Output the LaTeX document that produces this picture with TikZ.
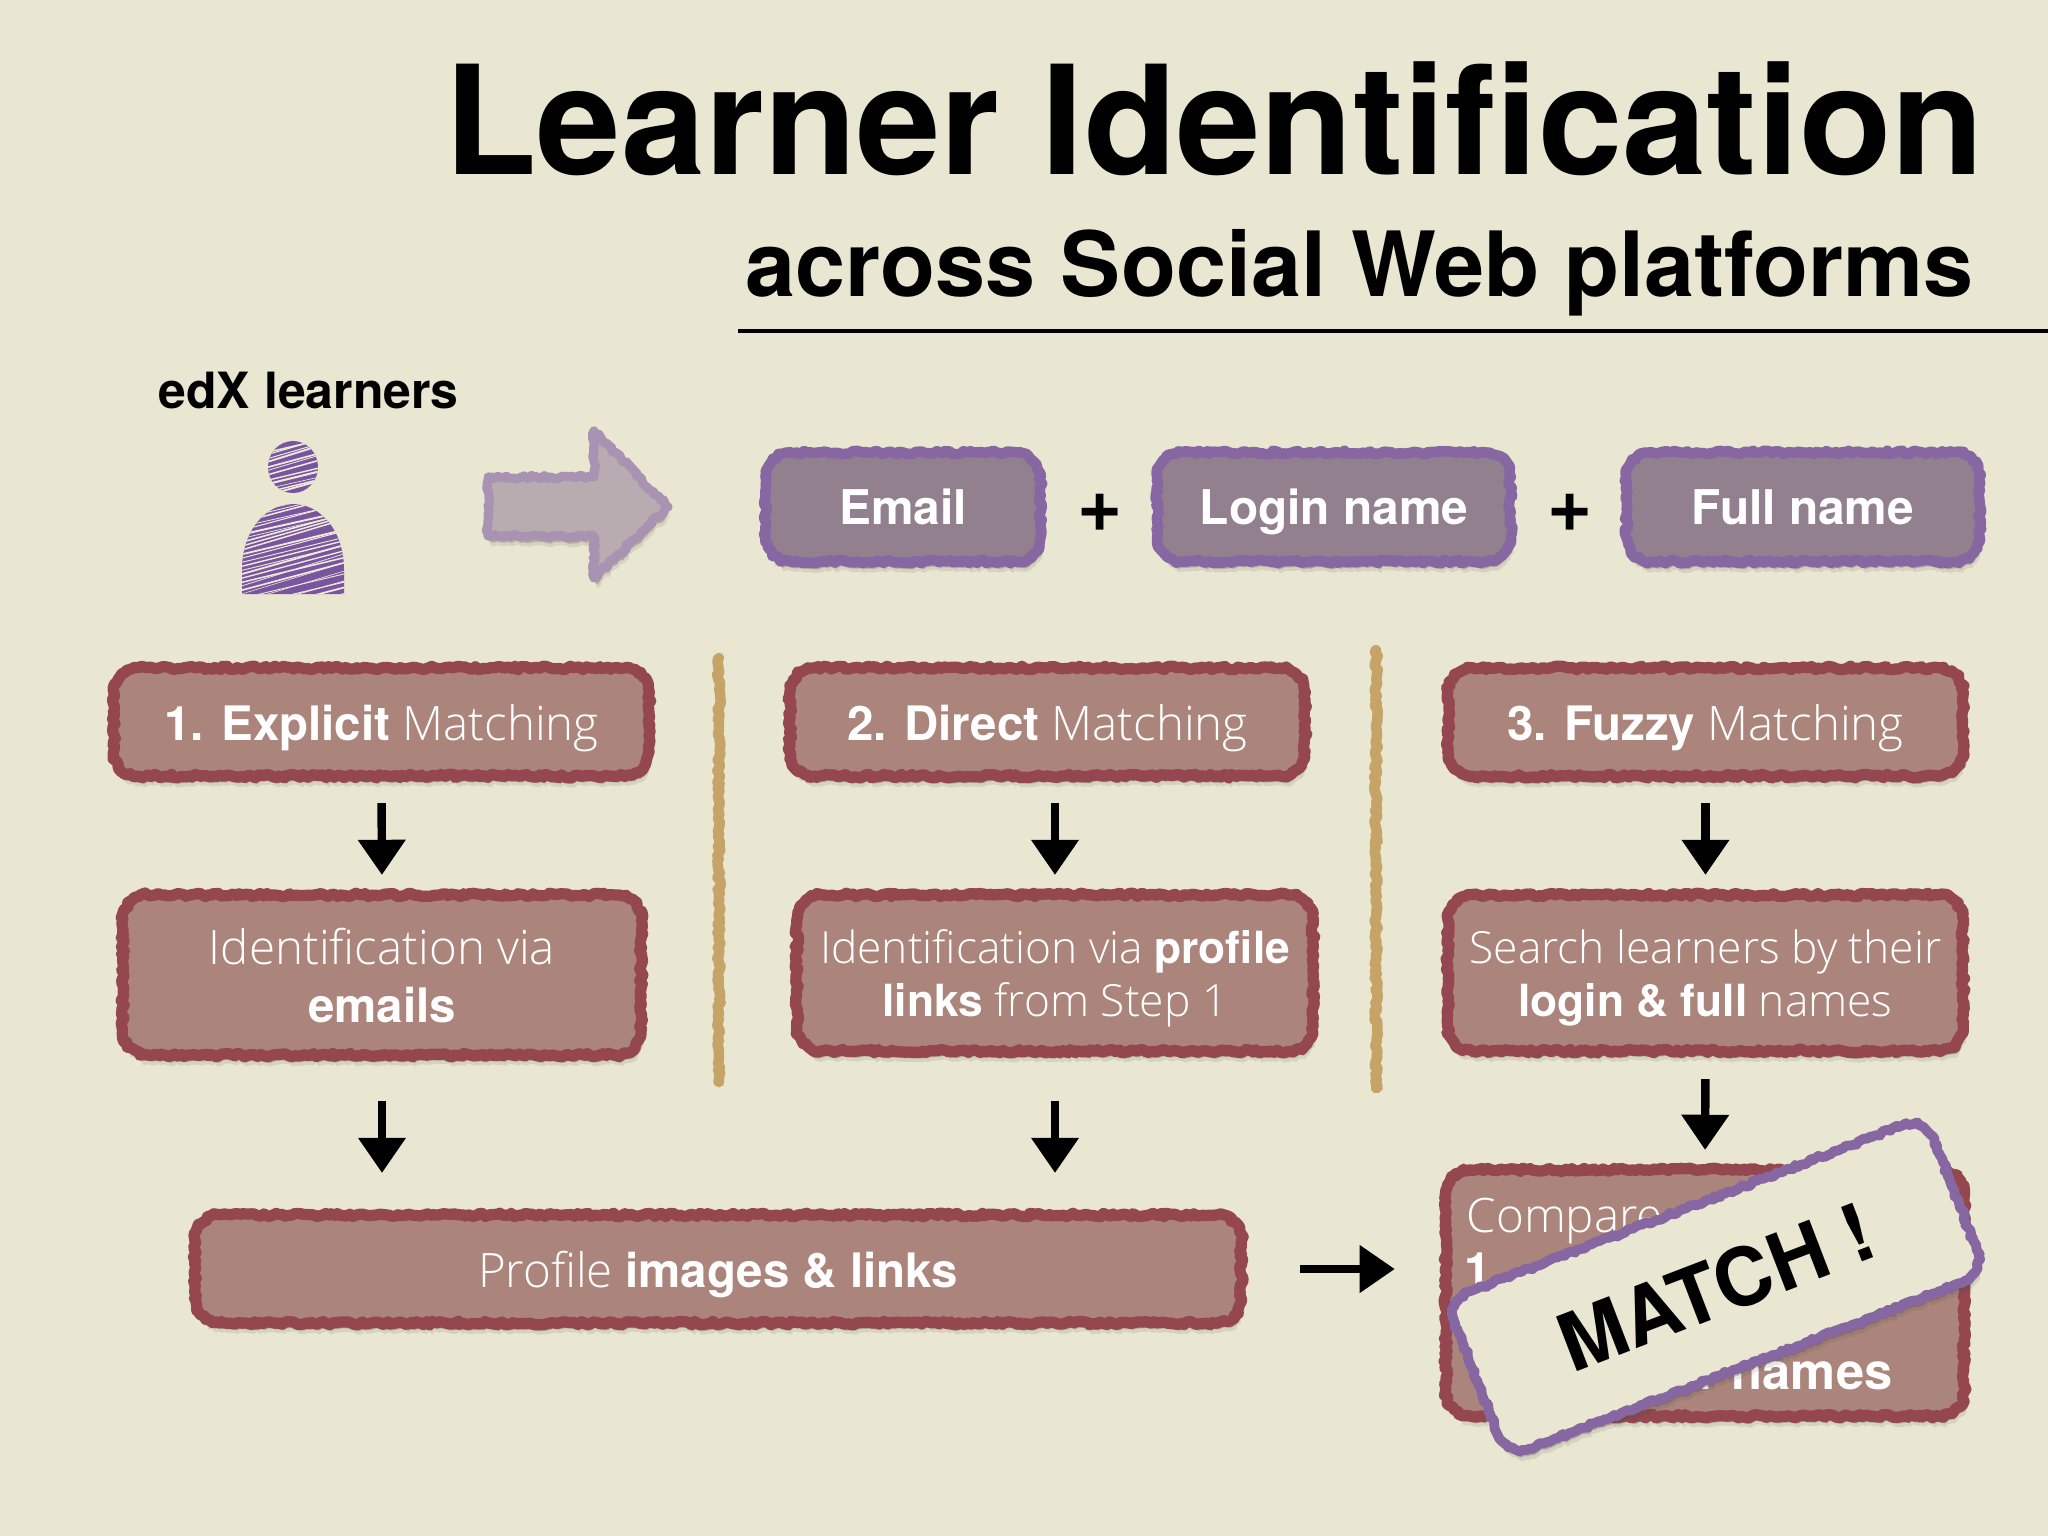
\documentclass[tikz,border=0pt]{standalone}
\usepackage{fontspec}
\usepackage{tikz}
\usetikzlibrary{arrows.meta, shadows, decorations.pathmorphing}
\setmainfont{TeX Gyre Heros}
\newfontfamily\lightfont{Open Sans Light}
\newfontfamily\boldfont{TeX Gyre Heros Bold}
\newcommand{\hb}[1]{{\boldfont #1}}
\definecolor{paper}{HTML}{E9E6D2}
\definecolor{brick}{HTML}{94474F}
\definecolor{brickfill}{HTML}{AB857C}
\definecolor{plum}{HTML}{8767A2}
\definecolor{plumfill}{HTML}{92808F}
\definecolor{sand}{HTML}{C6A367}
\definecolor{ink}{HTML}{7A559F}

% Rounded rectangle that brings its own corners, so that a decoration can roughen it
\makeatletter
\pgfdeclareshape{chalkbox}{
    \inheritsavedanchors[from=rectangle]
    \inheritanchorborder[from=rectangle]
    \inheritanchor[from=rectangle]{center}
    \inheritanchor[from=rectangle]{north}
    \inheritanchor[from=rectangle]{south}
    \inheritanchor[from=rectangle]{east}
    \inheritanchor[from=rectangle]{west}
    \backgroundpath{
        \southwest \pgf@xa=\pgf@x \pgf@ya=\pgf@y
        \northeast \pgf@xb=\pgf@x \pgf@yb=\pgf@y
        \pgf@xc=.5\pgf@xa \advance\pgf@xc by .5\pgf@xb
        {
            \pgfsetcornersarced{\pgfqpoint{7pt}{7pt}}
            \pgfpathmoveto{\pgfqpoint{\pgf@xc}{\pgf@yb}}
            \pgfpathlineto{\pgfqpoint{\pgf@xb}{\pgf@yb}}
            \pgfpathlineto{\pgfqpoint{\pgf@xb}{\pgf@ya}}
            \pgfpathlineto{\pgfqpoint{\pgf@xa}{\pgf@ya}}
            \pgfpathlineto{\pgfqpoint{\pgf@xa}{\pgf@yb}}
            \pgfpathlineto{\pgfqpoint{\pgf@xc}{\pgf@yb}}
        }
    }
}
\makeatother

\tikzset{
    rough/.style={decorate, decoration={random steps, segment length=1pt, amplitude=0.5pt}, line join=round, line cap=round},
    softshadow/.style={drop shadow={shadow xshift=0.8pt, shadow yshift=-2.8pt, opacity=0.12, fill=black!70!paper},
        drop shadow={shadow xshift=0.5pt, shadow yshift=-1.8pt, opacity=0.25, fill=black!70!paper}},
    redbox/.style={chalkbox, outer sep=0pt, draw=brick, fill=brickfill, line width=3.2pt, rough, softshadow,
        text=white, align=center, inner sep=0pt, text depth=0pt, font=\lightfont\fontsize{13.5}{16.5}\selectfont},
    plumbox/.style={chalkbox, outer sep=0pt, draw=plum, fill=plumfill, line width=3pt, rough, softshadow,
        text=white, align=center, inner sep=0pt, text depth=0pt, minimum height=1.09cm, font=\boldfont\fontsize{13.6}{16}\selectfont},
    flowarrow/.style={-{Triangle[width=13pt, length=10pt]}, line width=2.4pt, black}
}

\begin{document}
\begin{tikzpicture}[x=0.01cm, y=-0.01cm]
    \useasboundingbox (0,0) rectangle (2048,1536);
    \fill[paper] (0,0) rectangle (2048,1536);

    % Heading
    \node[anchor=base east, inner sep=0pt, font=\boldfont\fontsize{43.06}{50}\selectfont] (title) at (1985,174) {Learner Identification};
    \node[anchor=base east, inner sep=0pt, font=\boldfont\fontsize{25.6}{30}\selectfont] (subtitle) at (1974,296) {across Social Web platforms};
    \coordinate (ruleleft) at (738,331);
    \coordinate (ruleright) at (2048,331);
    \draw[line width=1.1pt] (ruleleft) -- (ruleright);

    % The learner
    \node[anchor=base west, inner sep=0pt, font=\boldfont\fontsize{14.2}{18}\selectfont] (learners) at (158,408) {edX learners};
    \begin{scope}
        \clip (293,467) ellipse (25 and 26)
              (242,594) -- (242,570) .. controls (242,530) and (266,504) .. (293,504)
              .. controls (320,504) and (344,530) .. (344,570) -- (344,594) -- cycle;
        \fill[ink] (235,435) rectangle (350,600);
        \pgfmathsetseed{11}
        \foreach \y in {440,444,...,630} {
            \pgfmathsetmacro{\w}{0.15+0.45*rnd}
            \pgfmathsetmacro{\s}{25+12*rnd}
            \draw[paper!80!white, line width=\w pt] (235,\y) -- (350,\y-\s);
        }
    \end{scope}

    % Big arrow
    \draw[draw=plum!65!paper, fill=plumfill!45!paper!85!plum, line width=2.6pt, rough, softshadow]
        (488,477) -- (594,477) -- (594,431) -- (668,507) -- (594,578) -- (594,536) -- (488,536) -- cycle;

    % Attributes
    \node[plumbox, minimum width=2.75cm] (email) at (903,507) {Email};
    \node[plumbox, minimum width=3.53cm] (login) at (1334,507) {Login name};
    \node[plumbox, minimum width=3.53cm] (fullname) at (1803,507) {Full name};
    \node[font=\boldfont\fontsize{22}{24}\selectfont, inner sep=0pt] (plusa) at (1100,513) {+};
    \node[font=\boldfont\fontsize{22}{24}\selectfont, inner sep=0pt] (plusb) at (1570,513) {+};

    % Dividers
    \coordinate (dividera) at (719,658);
    \coordinate (dividerb) at (719,1082);
    \coordinate (dividerc) at (1376,650);
    \coordinate (dividerd) at (1376,1088);
    \draw[sand, line width=3pt, rough] (dividera) -- (dividerb);
    \draw[sand, line width=3pt, rough] (dividerc) -- (dividerd);

    % Matching steps
    \node[redbox, minimum width=5.35cm, minimum height=1.08cm] (explicit) at (381.5,722) {\hb{1. Explicit} Matching};
    \node[redbox, minimum width=5.15cm, minimum height=1.08cm] (direct) at (1047.5,722) {\hb{2. Direct} Matching};
    \node[redbox, minimum width=5.15cm, minimum height=1.08cm] (fuzzy) at (1705.5,722) {\hb{3. Fuzzy} Matching};

    \node[redbox, minimum width=5.18cm, minimum height=1.6cm] (viaemails) at (382,975) {Identification via\\\hb{emails}};
    \node[redbox, minimum width=5.16cm, minimum height=1.56cm, font=\lightfont\fontsize{12.6}{15}\selectfont] (viaprofile) at (1055,973) {Identification via \hb{profile}\\\hb{links} from Step 1};
    \node[redbox, minimum width=5.15cm, minimum height=1.56cm, font=\lightfont\fontsize{12.6}{15}\selectfont] (search) at (1705.5,973) {Search learners by their\\\hb{login \& full} names};

    \node[redbox, minimum width=10.46cm, minimum height=1.08cm] (images) at (718,1269) {Profile \hb{images \& links}};

    \node[redbox, minimum width=5.18cm, minimum height=2.46cm] (compare) at (1705,1293) {};
    \node[anchor=base west, text=white, inner sep=0pt, font=\lightfont\fontsize{13.5}{16}\selectfont] (comparetext) at (1466,1232) {Compare};
    \node[anchor=base west, text=white, inner sep=0pt, font=\boldfont\fontsize{13.5}{16}\selectfont] (onetext) at (1464,1286) {1};
    \node[anchor=base east, text=white, inner sep=0pt, font=\boldfont\fontsize{14.4}{16}\selectfont] (namestext) at (1893,1389) {r names};

    % Connectors
    \draw[flowarrow, shorten <=0.27cm, shorten >=0.2cm] (explicit.south) -- (viaemails.north);
    \draw[flowarrow, shorten <=0.27cm, shorten >=0.2cm] (direct.south -| viaprofile.north) -- (viaprofile.north);
    \draw[flowarrow, shorten <=0.27cm, shorten >=0.2cm] (fuzzy.south) -- (search.north);
    \draw[flowarrow, shorten <=0.46cm, shorten >=0.42cm] (viaemails.south) -- (viaemails.south |- images.north);
    \draw[flowarrow, shorten <=0.5cm, shorten >=0.42cm] (viaprofile.south) -- (viaprofile.south |- images.north);
    \draw[flowarrow, shorten <=0.28cm, shorten >=0.2cm] (search.south) -- (compare.north);
    \draw[flowarrow, shorten <=0.59cm, shorten >=0.51cm] (images.east) -- (images.east -| compare.west);

    % Sticker
    \node[chalkbox, outer sep=0pt, draw=plum, fill=paper, line width=2.8pt, rough, softshadow, rotate=21,
          minimum width=5.13cm, minimum height=1.68cm, font=\boldfont\fontsize{22.8}{26}\selectfont] (match) at (1716,1287) {MATCH !};
\end{tikzpicture}
\end{document}
